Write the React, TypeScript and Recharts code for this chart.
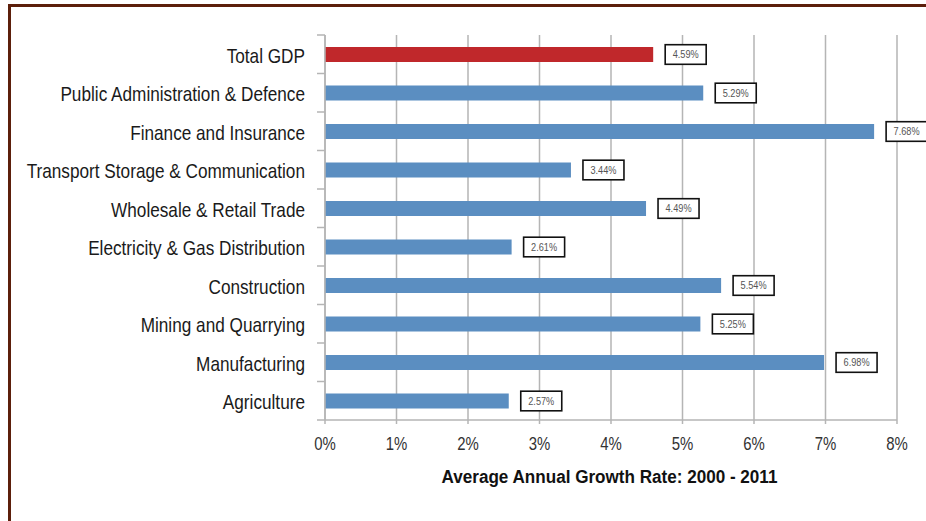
import React from 'react';
import { BarChart, Bar, XAxis, YAxis, CartesianGrid, Cell, LabelList } from 'recharts';

const sectors = [
  'Total GDP',
  'Public Administration & Defence',
  'Finance and Insurance',
  'Transport Storage & Communication',
  'Wholesale & Retail Trade',
  'Electricity & Gas Distribution',
  'Construction',
  'Mining and Quarrying',
  'Manufacturing',
  'Agriculture',
];
const growthRates = [4.59, 5.29, 7.68, 3.44, 4.49, 2.61, 5.54, 5.25, 6.98, 2.57];
const xTicks = [0, 1, 2, 3, 4, 5, 6, 7, 8];
const axisTitle = 'Average Annual Growth Rate: 2000 - 2011';

const RED = '#c0282b';
const BLUE = '#5b8ec1';
const GRID = '#b5b5b5';
const FONT = 'Liberation Sans, Arial, sans-serif';

const W = 926;
const H = 521;
const PLOT_TOP = 35;
const PLOT_BOTTOM = 420;
const AXIS_LEFT = 325;

const data = sectors.map((name, i) => ({ name, value: growthRates[i] }));
const band = (PLOT_BOTTOM - PLOT_TOP) / sectors.length;

// y tick: condensed label plus tick marks on the band boundaries
const SectorTick = (props: any) => {
  const { x, y, payload, index } = props;
  const top = y - band / 2;
  return (
    <g>
      <line x1={AXIS_LEFT - 8} x2={AXIS_LEFT} y1={top} y2={top} stroke={GRID} strokeWidth={1.5} />
      {index === sectors.length - 1 && (
        <line x1={AXIS_LEFT - 8} x2={AXIS_LEFT} y1={top + band} y2={top + band} stroke={GRID} strokeWidth={1.5} />
      )}
      <g transform={`translate(${x - 12},${y + 8.5}) scale(0.86,1)`}>
        <text x={0} y={0} textAnchor="end" fontSize={20} fill="#1a1a1a" fontFamily={FONT}>
          {payload.value}
        </text>
      </g>
    </g>
  );
};

const PercentTick = (props: any) => {
  const { x, y, payload } = props;
  return (
    <g transform={`translate(${x},${y + 24}) scale(0.83,1)`}>
      <text x={0} y={0} textAnchor="middle" fontSize={18} fill="#333" fontFamily={FONT}>
        {payload.value}%
      </text>
    </g>
  );
};

const AxisTitle = (props: any) => {
  const { viewBox } = props;
  const cx = viewBox.x + viewBox.width / 2;
  return (
    <g transform={`translate(${cx - 1.5},${PLOT_BOTTOM + 62.5}) scale(0.9,1)`}>
      <text x={0} y={0} textAnchor="middle" fontSize={19} fontWeight="bold" fill="#111" fontFamily={FONT}>
        {axisTitle}
      </text>
    </g>
  );
};

const ValueBox = (props: any) => {
  const { x, y, width, height, value } = props;
  const bx = x + width + 12;
  const cy = y + height / 2;
  return (
    <g>
      <rect x={bx} y={cy - 9.8} width={41} height={19.6} fill="#fff" stroke="#111" strokeWidth={1.6} />
      <g transform={`translate(${bx + 20.5},${cy + 3.6}) scale(0.92,1)`}>
        <text x={0} y={0} textAnchor="middle" fontSize={10} fill="#555" fontFamily={FONT}>
          {value.toFixed(2)}%
        </text>
      </g>
    </g>
  );
};

export default function App() {
  return (
    <div style={{ position: 'absolute', left: 0, top: 0, width: W, height: H, background: '#fff' }}>
      <div
        style={{
          position: 'absolute',
          left: 8,
          top: 4,
          width: W - 8,
          height: H - 4,
          borderLeft: '3px solid #5c1f0b',
          borderTop: '3px solid #5c1f0b',
          boxSizing: 'border-box',
        }}
      />
      <div style={{ position: 'absolute', left: 0, top: 0 }}>
        <BarChart
          width={W}
          height={H}
          data={data}
          layout="vertical"
          margin={{ top: PLOT_TOP, right: 29, bottom: 0, left: 0 }}
          barSize={15}
        >
          <CartesianGrid horizontal={false} vertical stroke={GRID} strokeWidth={1.5} />
          <XAxis
            type="number"
            domain={[0, 8]}
            ticks={xTicks}
            height={H - PLOT_BOTTOM}
            axisLine={{ stroke: GRID, strokeWidth: 1.5 }}
            tickLine={{ stroke: GRID, strokeWidth: 1.5 }}
            tickSize={4}
            tick={<PercentTick />}
            label={<AxisTitle />}
          />
          <YAxis
            type="category"
            dataKey="name"
            width={AXIS_LEFT}
            axisLine={{ stroke: GRID, strokeWidth: 1.5 }}
            tickLine={false}
            tick={<SectorTick />}
            interval={0}
          />
          <Bar dataKey="value" isAnimationActive={false}>
            {data.map((d, i) => (
              <Cell key={d.name} fill={i === 0 ? RED : BLUE} />
            ))}
            <LabelList dataKey="value" content={<ValueBox />} />
          </Bar>
        </BarChart>
      </div>
    </div>
  );
}
